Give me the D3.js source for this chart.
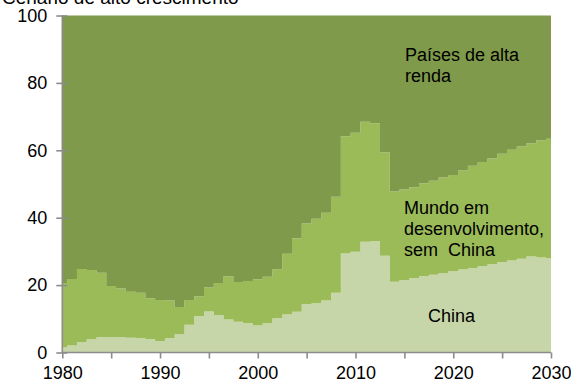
<!DOCTYPE html>
<html>
<head>
<meta charset="utf-8">
<script src="https://cdn.jsdelivr.net/npm/d3@7"></script>
<style>
  html, body { margin: 0; padding: 0; background: #fff; }
  svg { display: block; }
  text { font-family: "Liberation Sans", Arial, sans-serif; fill: #000; white-space: pre; }
</style>
</head>
<body>
<svg id="chart" width="571" height="383"></svg>
<script>
// Share of world output (%), high-growth scenario
const years = d3.range(1980, 2031);

const china = [
  1.5, 2.1, 3.1, 3.9, 4.5, 4.6, 4.6, 4.4, 4.2, 3.9,
  3.4, 4.2, 5.5, 8.2, 10.8, 12.2, 11.1, 9.8, 9.1, 8.7,
  8.0, 8.7, 10.2, 11.3, 12.1, 14.4, 14.6, 15.4, 17.7, 29.4,
  29.9, 32.9, 33.1, 28.7, 21.0, 21.5, 22.0, 22.7, 23.1, 23.6,
  24.1, 24.6, 25.1, 25.7, 26.2, 26.8, 27.3, 27.8, 28.5, 28.2, 28.0
];

const developingExChina = [
  19.1, 19.7, 21.7, 20.6, 19.2, 15.1, 14.4, 13.6, 13.5, 12.2,
  12.2, 11.2, 8.0, 7.4, 5.9, 7.1, 9.5, 12.8, 11.8, 12.5,
  13.7, 13.8, 14.5, 18.0, 21.8, 23.9, 25.1, 26.1, 28.5, 34.8,
  35.3, 35.6, 34.9, 30.7, 26.8, 26.9, 27.0, 27.5, 27.9, 28.3,
  28.6, 29.4, 30.3, 30.8, 31.4, 32.2, 32.9, 33.3, 33.6, 34.8, 35.4
];

const highIncome = [
  79.4, 78.2, 75.2, 75.5, 76.3, 80.3, 81.0, 82.0, 82.3, 83.9,
  84.4, 84.6, 86.5, 84.4, 83.3, 80.7, 79.4, 77.4, 79.1, 78.8,
  78.3, 77.5, 75.3, 70.7, 66.1, 61.7, 60.3, 58.5, 53.8, 35.8,
  34.8, 31.5, 32.0, 40.6, 52.2, 51.6, 51.0, 49.8, 49.0, 48.1,
  47.3, 46.0, 44.6, 43.5, 42.4, 41.0, 39.8, 38.9, 37.9, 37.0, 36.6
];

const seriesKeys = ["china", "developingExChina", "highIncome"];
const seriesColors = ["#c6d6a9", "#9bbb59", "#7f9a4a"];

const yTicks = [0, 20, 40, 60, 80, 100];
const xTicks = d3.range(1980, 2031, 5);
const xLabelYears = [1980, 1990, 2000, 2010, 2020, 2030];

const title = "Cenário de alto crescimento";
const labels = [
  { lines: ["Países de alta", "renda"], x: 405, y: 61 },
  { lines: ["Mundo em", "desenvolvimento,", "sem  China"], x: 404, y: 214 },
  { lines: ["China"], x: 428, y: 322 }
];

const table = years.map((yr, i) => ({
  year: yr,
  china: china[i],
  developingExChina: developingExChina[i],
  highIncome: highIncome[i]
}));

const svg = d3.select("#chart");
const plotLeft = 62.3, plotRight = 551, plotTop = 15.5, plotBottom = 352.5;

const x = d3.scaleLinear().domain([1980, 2030]).range([plotLeft, plotRight]);
const y = d3.scaleLinear().domain([0, 100]).range([plotBottom, plotTop]);

const stacked = d3.stack().keys(seriesKeys)(table);

const area = d3.area()
  .curve(d3.curveStep)
  .x(d => x(d.data.year))
  .y0(d => y(d[0]))
  .y1(d => y(d[1]));

svg.append("g")
  .selectAll("path")
  .data(stacked)
  .join("path")
  .attr("fill", (d, i) => seriesColors[i])
  .attr("d", area);

// Axes
const axisColor = "#8c8c8c";

const yAxis = svg.append("g")
  .attr("transform", `translate(${plotLeft},0)`)
  .call(d3.axisLeft(y).tickValues(yTicks).tickSize(6).tickPadding(9).tickFormat(d3.format("d")));
yAxis.selectAll(".tick line").attr("x1", 5);

const xAxis = svg.append("g")
  .attr("transform", `translate(0,${plotBottom})`)
  .call(d3.axisBottom(x).tickValues(xTicks).tickSize(6).tickPadding(8)
    .tickFormat(d => xLabelYears.includes(d) ? String(d) : ""));

[yAxis, xAxis].forEach(g => {
  g.select(".domain").attr("stroke", axisColor).attr("stroke-width", 1.6);
  g.selectAll(".tick line").attr("stroke", axisColor).attr("stroke-width", 1.6);
  g.selectAll("text")
    .attr("fill", "#000")
    .style("font-family", "\"Liberation Sans\", Arial, sans-serif")
    .style("font-size", "18px");
});
xAxis.select(".domain").attr("d", `M${plotLeft},0H${plotRight}`);
yAxis.select(".domain").attr("d", `M0,${plotBottom}V${plotTop}`);

// Title (partially above the frame)
svg.append("text")
  .attr("x", 2).attr("y", 4)
  .style("font-size", "19px")
  .text(title);

// Series labels
labels.forEach(l => {
  const t = svg.append("text")
    .attr("x", l.x).attr("y", l.y)
    .style("font-size", "18px");
  l.lines.forEach((line, i) => {
    t.append("tspan")
      .attr("x", l.x)
      .attr("dy", i === 0 ? 0 : 21)
      .text(line);
  });
});
</script>
</body>
</html>
